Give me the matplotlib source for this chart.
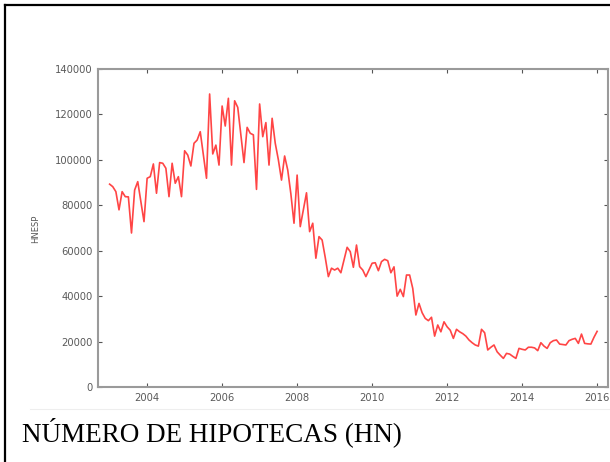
import numpy as np
import matplotlib
matplotlib.use("Agg")
import matplotlib.pyplot as plt
from matplotlib.lines import Line2D

# monthly series, jan 2003 .. jan 2016 (thousands)
start_year = 2003
hnesp_k = [
    89.3, 88.2, 86.0, 78.0, 86.0, 83.8, 83.7, 67.8, 86.7, 90.4, 81.5, 72.8,
    91.9, 92.6, 98.2, 85.3, 98.8, 98.5, 96.3, 83.8, 98.5, 89.7, 92.6, 83.8,
    104.0, 102.1, 97.3, 107.3, 108.7, 112.4, 102.0, 91.9, 129.0, 102.6, 106.5, 97.7,
    123.7, 114.9, 127.1, 97.7, 126.0, 123.1, 111.0, 98.8, 114.3, 111.7, 111.0, 87.0,
    124.6, 110.2, 116.4, 97.7, 118.3, 107.3, 100.0, 91.1, 101.7, 95.5, 85.0, 72.1,
    93.3, 70.6, 78.0, 85.5, 68.4, 72.1, 56.7, 66.2, 64.7, 57.0, 48.6, 52.3,
    51.5, 52.3, 50.3, 56.0, 61.5, 59.6, 52.7, 62.5, 53.0, 51.5, 48.6, 51.5,
    54.5, 54.7, 51.2, 55.2, 56.2, 55.6, 50.3, 52.9, 40.0, 43.0, 39.8, 49.3,
    49.3, 43.4, 31.7, 36.8, 32.7, 30.2, 29.2, 30.7, 22.4, 27.3, 24.3, 28.7,
    26.5, 25.0, 21.4, 25.4, 24.3, 23.5, 22.4, 20.7, 19.5, 18.5, 18.0, 25.4,
    23.9, 16.3, 17.5, 18.5, 15.5, 14.0, 12.6, 14.8, 14.5, 13.5, 12.6, 17.0,
    16.6, 16.3, 17.5, 17.5, 17.2, 16.0, 19.5, 18.0, 17.0, 19.5, 20.4, 20.7,
    18.9, 18.7, 18.5, 20.4, 21.0, 21.4, 19.2, 23.3, 19.2, 19.0, 18.9, 21.9,
    24.5,
]
xticks = [2004, 2006, 2008, 2010, 2012, 2014, 2016]
yticks = [0, 20000, 40000, 60000, 80000, 100000, 120000, 140000]
ylabel = "HNESP"
caption = "NÚMERO DE HIPOTECAS (HN)"

vals = np.array(hnesp_k) * 1000
t = start_year + np.arange(len(vals)) / 12.0

W, H = 610, 462
fig = plt.figure(figsize=(W / 100, H / 100), dpi=100)

def px(x, y):
    return x / W, 1 - y / H

ax = fig.add_axes([98 / W, 75 / H, 510 / W, 318 / H])
ax.plot(t, vals, color="#ff4545", lw=1.2)

ax.set_xlim(2002.69, 2016.29)
ax.set_ylim(0, 140000)
ax.set_xticks(xticks)
ax.set_yticks(yticks)

grey = "#9a9a9a"
for s in ax.spines.values():
    s.set_color(grey)
    s.set_linewidth(1.5)
ax.tick_params(direction="in", length=3, width=0.8, color="#555555",
               top=True, right=True, labelsize=7.2, labelcolor="#5a5a5a", pad=4)

fig.text(*px(36, 229), ylabel, rotation=90, ha="center", va="center",
         fontsize=6, color="#555555")

# caption under the chart
fig.text(*px(22, 441), caption, ha="left", va="baseline",
         family="Liberation Serif", fontsize=19.5, color="black")

# page borders
fig.add_artist(Line2D([5 / W, 1], [1 - 5 / H] * 2, color="black", lw=1.6))
fig.add_artist(Line2D([5 / W] * 2, [0, 1 - 5 / H], color="black", lw=1.6))
fig.add_artist(Line2D([30 / W, 1], [1 - 409 / H] * 2, color="#eeeeee", lw=0.8))

fig.savefig("out.png", dpi=100)
